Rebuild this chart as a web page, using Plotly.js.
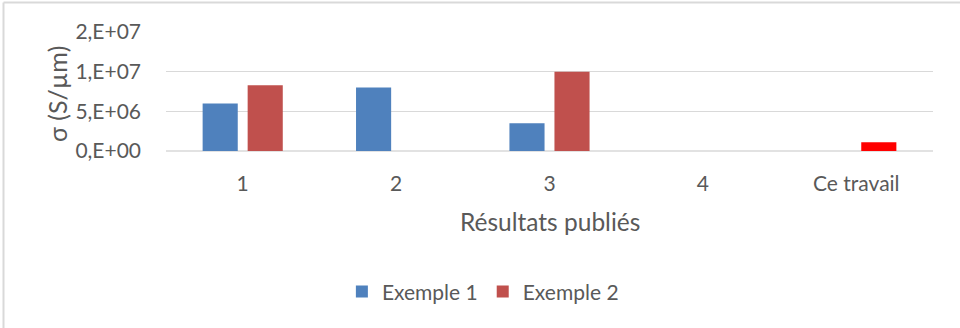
<!DOCTYPE html>
<html>
<head>
<meta charset="utf-8">
<script src="https://cdn.plot.ly/plotly-3.0.1.min.js"></script>
<style>html,body{margin:0;padding:0;background:#fff;}#chart{width:960px;height:328px;}</style>
</head>
<body>
<div id="chart"></div>
<script>
const categories = ["1", "2", "3", "4", "Ce travail"];
const exemple1 = [6.0e6, 8.0e6, 3.5e6, null, null];
const exemple2 = [8.3e6, null, 1.0e7, null, 1.1e6];
const exemple2Colors = ["#C0504D", "#C0504D", "#C0504D", "#C0504D", "#FF0000"];
const yTickVals = [0, 5e6, 1e7, 1.5e7];
const yTickText = ["0,E+00", "5,E+06", "1,E+07", "2,E+07"];
const xTitle = "Résultats publiés";
const yTitle = "σ (S/µm)";

const FONT = "Lato, 'Open Sans', sans-serif";
const TXT = "#595959";

const L = 166, R = 27, T = 32, B = 177, W = 960, H = 328;
const pw = W - L - R, ph = H - T - B;
const px = x => (x - L) / pw;
const py = y => (H - B - y) / ph;

const traces = [
  {type: "bar", name: "Exemple 1", x: categories, y: exemple1,
   marker: {color: "#4F81BD"}, hoverinfo: "skip"},
  {type: "bar", name: "Exemple 2", x: categories, y: exemple2,
   marker: {color: exemple2Colors}, hoverinfo: "skip"}
];

const layout = {
  width: W, height: H,
  margin: {l: L, r: R, t: T, b: B, pad: 0},
  paper_bgcolor: "#ffffff", plot_bgcolor: "#ffffff",
  font: {family: FONT, color: TXT, size: 21},
  barmode: "group", bargap: 0.413, bargroupgap: 0.22,
  showlegend: true,
  legend: {orientation: "h", xref: "container", x: 0.503, xanchor: "center",
           yref: "container", y: 0.11, yanchor: "middle",
           font: {family: FONT, size: 21, color: TXT}, itemwidth: 30, traceorder: "normal"},
  xaxis: {type: "category", showgrid: false, zeroline: false, showline: false,
          ticks: "", tickfont: {family: FONT, size: 21, color: TXT}, ticklabelstandoff: 18},
  yaxis: {range: [0, 1.5e7], tickvals: yTickVals, ticktext: yTickText,
          showgrid: true, gridcolor: "#D9D9D9", gridwidth: 1.3, zeroline: false, showline: false,
          ticks: "", ticklabelstandoff: 24, tickfont: {family: FONT, size: 21, color: TXT}},
  annotations: [
    {text: xTitle, xref: "paper", yref: "paper", x: 0.5, y: py(221), xanchor: "center", yanchor: "middle",
     showarrow: false, font: {family: FONT, size: 24.5, color: TXT}},
    {text: yTitle, xref: "paper", yref: "paper", x: px(57), y: py(94), xanchor: "center", yanchor: "middle",
     textangle: -90, showarrow: false, font: {family: FONT, size: 25, color: TXT}}
  ],
  shapes: [
    {type: "line", xref: "paper", yref: "paper", x0: 0, x1: 1, y0: 0, y1: 0,
     line: {color: "#D9D9D9", width: 1.3}, layer: "below"},
    {type: "line", xref: "paper", yref: "paper", x0: px(3.5), x1: px(3.5), y0: py(2.5), y1: py(H + 5),
     line: {color: "#D9D9D9", width: 2}},
    {type: "line", xref: "paper", yref: "paper", x0: px(3.5), x1: px(W + 5), y0: py(2.5), y1: py(2.5),
     line: {color: "#D9D9D9", width: 2}}
  ]
};

Plotly.newPlot("chart", traces, layout, {staticPlot: true, displayModeBar: false});
</script>
</body>
</html>
